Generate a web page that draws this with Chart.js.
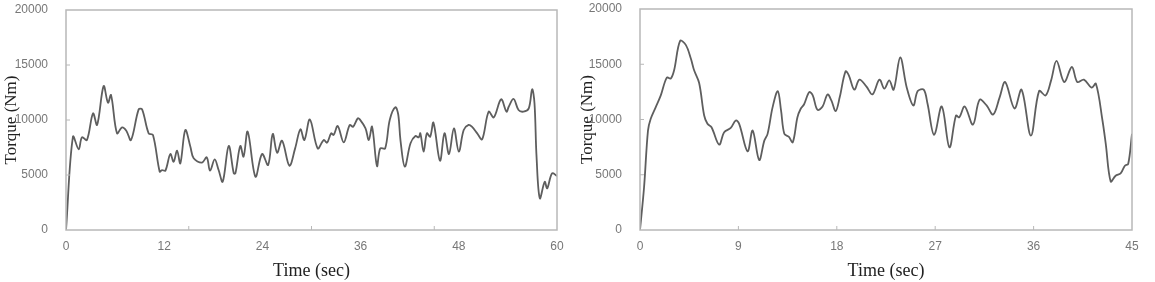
<!DOCTYPE html>
<html>
<head>
<meta charset="utf-8">
<script src="https://cdn.jsdelivr.net/npm/chart.js@4.4.1/dist/chart.umd.min.js"></script>
<style>
  html, body { margin: 0; padding: 0; background: #fff; }
  #wrap { position: relative; width: 1155px; height: 282px; overflow: hidden; }
  canvas { position: absolute; top: 0; }
</style>
</head>
<body>
<div id="wrap">
  <canvas id="chartA" width="577" height="282" style="left:0px"></canvas>
  <canvas id="chartB" width="577" height="282" style="left:576px"></canvas>
</div>
<script>
// left chart: 60 s run
const timeA = [0, 0.85, 1.55, 1.95, 2.55, 3.3, 3.8, 4.6, 5.13, 5.5, 6.23, 6.85, 7.37, 7.94, 8.88, 9.3,
  10.1, 10.63, 11.45, 11.73, 12.14, 12.75, 13.15, 13.57, 13.97, 14.58, 15.2, 15.6, 16.6, 17.2, 17.6,
  18.17, 18.65, 19.15, 19.88, 20.5, 20.7, 21.3, 21.7, 22.2, 23.15, 23.96, 24.7, 25.26, 25.8, 26.4,
  27.3, 28.0, 28.64, 29.13, 29.8, 30.76, 31.5, 31.9, 32.4, 32.7, 33.2, 33.94, 34.67, 35.08, 35.65,
  35.9, 36.6, 37.0, 37.4, 38.0, 38.4, 39.0, 39.56, 40.25, 40.6, 40.87, 41.4, 42.1, 42.7, 43.1, 43.3,
  43.7, 44.1, 44.5, 44.9, 45.7, 46.25, 46.8, 47.4, 48.0, 48.6, 49.2, 49.6, 50.25, 50.85, 51.65,
  52.27, 53.17, 53.83, 54.1, 54.7, 55.3, 55.9, 56.55, 56.96, 57.25, 57.5, 57.9, 58.5, 58.8, 59.4, 60];
const torqueA = [0, 8480, 7330, 8430, 8180, 10600, 9550, 13090, 11570, 12270, 8790, 9330, 9030, 8180, 10970, 10970,
  8790, 8640, 5300, 5450, 5390, 6910, 6210, 7210, 6060, 9090, 7570, 6520, 6120, 6610, 5390,
  6420, 5450, 4390, 7640, 5150, 5150, 7640, 6670, 8940, 4850, 6910, 5910, 8730, 7030, 8120,
  5850, 7420, 9150, 8180, 10050, 7420, 8180, 7940, 8790, 8640, 9450, 7970, 9550, 9390, 10150,
  10060, 9240, 8180, 9390, 5820, 7420, 7420, 10000, 11150, 10500, 8180, 5760, 7880, 8540, 8420, 8790,
  7120, 8790, 8480, 9760, 6300, 8790, 6910, 9240, 7120, 9090, 9550, 9390, 8790, 8240, 10760,
  10240, 11880, 10760, 11210, 11910, 10910, 10760, 11060, 12790, 11510, 6670, 2880, 4390, 3790, 5150, 4910];

// right chart: 45 s run
const timeB = [0, 0.37, 0.73, 0.98, 1.44, 1.9, 2.45, 2.81, 3.12, 3.67, 4.2, 4.65, 4.95, 5.41, 5.87, 6.17,
  6.54, 7.24, 7.7, 8.3, 8.76, 9.07, 9.84, 10.3, 10.9, 11.37, 11.67, 12.13, 12.6, 12.9, 13.2, 13.6,
  13.97, 14.4, 14.7, 15.0, 15.48, 15.8, 16.23, 16.7, 17.15, 17.5, 17.9, 18.27, 18.8, 19.1, 19.6,
  20.07, 20.7, 21.26, 21.9, 22.35, 22.8, 23.2, 23.8, 24.4, 25.0, 25.4, 25.95, 26.3, 26.9, 27.6,
  28.3, 28.9, 29.2, 29.7, 30.45, 31.06, 31.7, 32.3, 32.9, 33.4, 34.25, 34.9, 35.75, 36.5, 37.1,
  37.6, 38.1, 38.8, 39.5, 40.0, 40.6, 41.3, 41.7, 42.3, 42.6, 43.05, 43.5, 43.96, 44.35, 44.65, 45];
const torqueB = [0, 3850, 9000, 10060, 11120, 12180, 13790, 13700, 14450, 17120, 16730, 15520, 14450, 13300, 10360, 9610,
  9300, 7730, 8850, 9240, 9910, 9610, 7120, 9000, 6330, 8090, 8700, 11120, 12570, 10820, 8700, 8450,
  7940, 10210, 10970, 11360, 12480, 12180, 10880, 11180, 12270, 11730, 10760, 12030, 14360, 14000, 12700,
  13610, 13000, 12270, 13610, 12790, 13540, 12700, 15610, 12880, 11270, 12570, 12700, 11420, 8610, 11180,
  7480, 10360, 10200, 11180, 9540, 11790, 11270, 10450, 12030, 13390, 11000, 12700, 8540, 12570, 12180,
  13540, 15300, 13390, 14750, 13390, 13610, 12880, 13240, 9910, 7790, 4390, 4910, 5120, 5820, 5970, 8700];

const yTicks = [0, 5000, 10000, 15000, 20000];
const minorA = [15, 30, 45];
const minorB = [9, 18, 27, 36];
const minorY = [5000, 10000, 15000];

// box round the plot area plus the little inward tick marks
const framePlugin = {
  id: 'frame',
  afterDatasetsDraw(chart, args, opts) {
    const { ctx, chartArea: a, scales } = chart;
    ctx.save();
    ctx.strokeStyle = '#b8b8b8';
    ctx.lineWidth = 1.5;
    ctx.strokeRect(a.left, a.top, a.right - a.left, a.bottom - a.top);
    ctx.lineWidth = 1;
    ctx.beginPath();
    (opts.xMinor || []).forEach(v => {
      const px = scales.x.getPixelForValue(v);
      ctx.moveTo(px, a.bottom);
      ctx.lineTo(px, a.bottom - 4);
    });
    (opts.yMinor || []).forEach(v => {
      const py = scales.y.getPixelForValue(v);
      ctx.moveTo(a.left, py);
      ctx.lineTo(a.left + 4, py);
    });
    ctx.stroke();
    ctx.restore();
  }
};

function makeChart(id, times, values, xMax, xStep, minor, lay) {
  const pts = times.map((t, i) => ({ x: t, y: values[i] }));
  return new Chart(document.getElementById(id), {
    type: 'line',
    data: {
      datasets: [{
        data: pts,
        borderColor: '#5e5e5e',
        borderWidth: 1.8,
        pointRadius: 0,
        tension: 0.35,
        fill: false
      }]
    },
    options: {
      responsive: false,
      animation: false,
      layout: { padding: { left: 0, right: lay.right, top: lay.top, bottom: 0 } },
      plugins: {
        legend: { display: false },
        tooltip: { enabled: false },
        frame: { xMinor: minor, yMinor: minorY }
      },
      scales: {
        x: {
          type: 'linear',
          min: 0,
          max: xMax,
          grid: { display: false },
          border: { display: false },
          afterFit: s => { s.height = 52; },
          ticks: {
            stepSize: xStep,
            padding: 1,
            color: '#777',
            font: { family: 'Liberation Sans, Arial, sans-serif', size: 12 },
            maxRotation: 0
          },
          title: {
            display: true,
            text: 'Time (sec)',
            color: '#222',
            font: { family: 'Liberation Serif, Times New Roman, serif', size: 18 },
            padding: { top: 0, bottom: 0 }
          }
        },
        y: {
          min: 0,
          max: 20000,
          grid: { display: false },
          border: { display: false },
          afterFit: s => {
            s.width = lay.yWidth;
            s.paddingTop = 0;
            s.paddingBottom = 0;
          },
          afterBuildTicks: s => { s.ticks = yTicks.map(v => ({ value: v })); },
          ticks: {
            padding: 10,
            color: '#777',
            font: { family: 'Liberation Sans, Arial, sans-serif', size: 12 },
            callback: v => String(v)
          },
          title: {
            display: true,
            text: 'Torque (Nm)',
            color: '#222',
            font: { family: 'Liberation Serif, Times New Roman, serif', size: 17 },
            padding: { top: 1, bottom: 0 }
          }
        }
      }
    },
    plugins: [framePlugin]
  });
}

makeChart('chartA', timeA, torqueA, 60, 12, minorA, { yWidth: 66, right: 20, top: 10 });
makeChart('chartB', timeB, torqueB, 45, 9, minorB, { yWidth: 64, right: 21, top: 9 });
</script>
</body>
</html>
